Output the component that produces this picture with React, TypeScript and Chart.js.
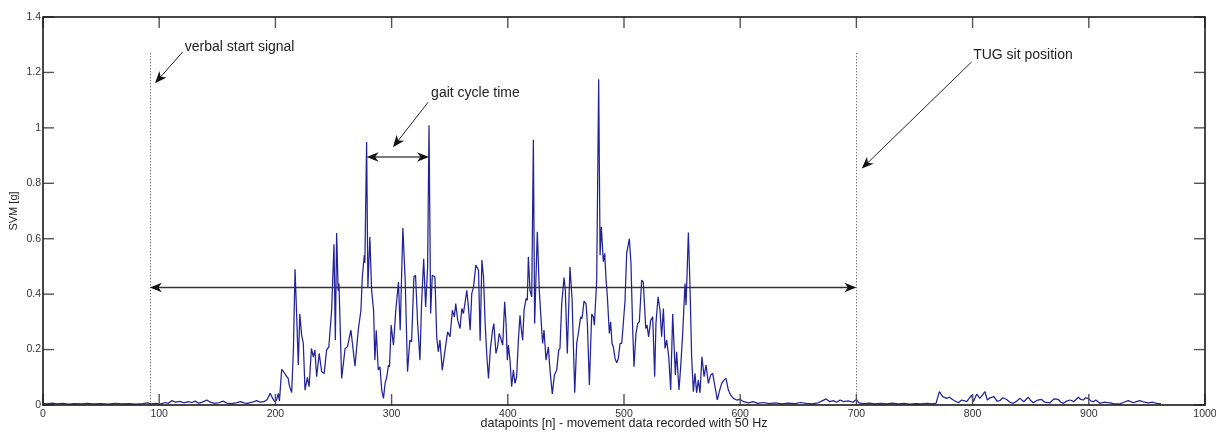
import React, { useEffect, useRef } from 'react';
import { Chart, registerables } from 'chart.js';

Chart.register(...registerables);

// ---- data ----
const xValues: number[] = [
  0, 3, 8, 12, 17, 22, 27, 33, 38, 44, 50, 56, 62, 68, 74, 80, 86, 90, 93, 97,
  101, 105, 108, 111, 114, 118, 121, 125, 128, 131, 134, 138, 141, 144, 148, 152, 155, 158, 162, 166,
  170, 173, 176, 180, 184, 187, 190, 193, 195.5, 197.5, 199.5, 201, 202.5, 203.5, 205.4, 207, 209, 211, 212, 214,
  215.5, 216.9, 218.5, 219.7, 221, 222.6, 224, 225.5, 227.5, 229, 231, 232.6, 234, 235.5, 237.7, 239.8, 242, 244, 246, 248.4,
  250.4, 251.6, 252.7, 254, 254.7, 257, 260, 262, 265, 268.5, 271.3, 273.6, 274.8, 276.5, 277, 278.5, 279.6, 281.3, 282.8, 284.5,
  285.6, 286.8, 288.5, 290, 291.5, 293, 294.4, 295.9, 297.3, 298.2, 299.6, 301.6, 303.6, 305.9, 307.4, 309.7, 311.7, 313.7, 315.7, 317.2,
  319.2, 320.6, 322.4, 324.4, 325.8, 327.6, 329.3, 331, 332.2, 333.6, 335, 337.3, 338.8, 340.2, 341.6, 343.6, 346, 348.2, 350.3, 352.3,
  354, 355.2, 356.9, 358.9, 360.4, 361.8, 363.3, 364.7, 366.1, 367.6, 369, 370.5, 372.5, 374.8, 376.2, 377.7, 379.1, 380.5, 382, 383.4,
  384.9, 386.9, 388, 389.8, 391.2, 392.6, 394, 395.6, 397.3, 398.5, 399.6, 400.5, 401.9, 403.3, 404.8, 406.2, 407.6, 409.1, 410.5, 411.7,
  412.8, 414, 415.7, 416.8, 417.7, 419.1, 420.6, 422, 423.1, 425.4, 427.1, 429.2, 430, 431.2, 432.9, 434.9, 436.3, 438.3, 440.1, 442.1,
  443.8, 444.9, 446.4, 448.4, 449.5, 451.2, 453.5, 455.3, 457.6, 459.3, 460.7, 462.7, 463.9, 465.6, 467.3, 468.5, 470.2, 472.2, 473.6, 474.5,
  476.5, 478.2, 479.4, 480.5, 482.2, 483.4, 484.5, 485.7, 487.4, 488.5, 489.7, 490.8, 492.3, 493.7, 495.1, 496.6, 498, 499.4, 500.9, 502.3,
  504.6, 506, 507.5, 508.6, 510.3, 511.8, 513.2, 515.2, 516.6, 518.7, 519.8, 521.2, 523, 524.7, 526.4, 527.5, 529.3, 531, 532.4, 533.9,
  535.3, 536.7, 538.5, 540.2, 541.9, 543, 544.2, 545.3, 547.3, 548.8, 550.5, 552.5, 553.4, 555.4, 556.8, 558.2, 559.7, 561.1, 562.5, 564,
  565.4, 567.1, 568.9, 570.6, 572.6, 574.6, 576.3, 578.3, 580.3, 582, 584.1, 586.1, 587.8, 589.8, 591.8, 594.1, 597, 600, 603, 607,
  611, 615, 620, 625, 630, 636, 641, 647, 652, 657, 662, 667, 671, 674, 677, 680, 683, 686, 689, 693,
  697, 700, 702, 706, 711, 716, 721, 726, 731, 736, 741, 746, 751, 756, 761, 765, 768.5, 771.4, 774.2, 777.7,
  780, 783.4, 787.7, 790.6, 794.9, 799.2, 800.6, 803.5, 806.3, 810.6, 812.7, 815, 818.4, 821, 823.6, 826, 829.3, 832, 835, 838,
  840.8, 844, 848, 850, 852.2, 856, 859.4, 862, 866.6, 870, 873.8, 876, 878.1, 881, 883.8, 887, 891, 893, 895.3, 897,
  899.6, 902, 903.9, 906, 909.6, 913, 918.2, 922, 926.8, 930, 934, 938.3, 941, 944, 948, 951.2, 955, 958.4, 962.1,
];

const svmValues: number[] = [
  0.006, 0.004, 0.007, 0.004, 0.006, 0.003, 0.005, 0.004, 0.006, 0.004, 0.005, 0.003, 0.006, 0.004, 0.005, 0.003, 0.005, 0.008, 0.004, 0.006,
  0.003, 0.009, 0.006, 0.016, 0.01, 0.013, 0.008, 0.012, 0.009, 0.014, 0.006, 0.012, 0.018, 0.01, 0.006, 0.009, 0.014, 0.007, 0.005, 0.008,
  0.012, 0.008, 0.006, 0.01, 0.016, 0.01, 0.012, 0.02, 0.042, 0.025, 0.012, 0.018, 0.042, 0.015, 0.129, 0.12, 0.108, 0.096, 0.07, 0.045,
  0.2, 0.49, 0.3, 0.144, 0.328, 0.252, 0.222, 0.054, 0.1, 0.066, 0.204, 0.174, 0.198, 0.102, 0.186, 0.12, 0.114, 0.198, 0.21, 0.342,
  0.58, 0.234, 0.621, 0.414, 0.438, 0.096, 0.204, 0.21, 0.27, 0.14, 0.27, 0.342, 0.462, 0.54, 0.513, 0.949, 0.426, 0.606, 0.414, 0.342,
  0.162, 0.27, 0.126, 0.138, 0.054, 0.024, 0.078, 0.102, 0.144, 0.138, 0.288, 0.216, 0.342, 0.444, 0.27, 0.639, 0.45, 0.12, 0.234, 0.228,
  0.462, 0.468, 0.294, 0.162, 0.366, 0.528, 0.354, 0.498, 1.009, 0.33, 0.468, 0.462, 0.246, 0.192, 0.234, 0.126, 0.198, 0.264, 0.246, 0.342,
  0.318, 0.366, 0.306, 0.276, 0.348, 0.33, 0.372, 0.414, 0.354, 0.27, 0.402, 0.426, 0.505, 0.486, 0.232, 0.523, 0.462, 0.294, 0.174, 0.096,
  0.198, 0.27, 0.294, 0.186, 0.21, 0.258, 0.24, 0.216, 0.372, 0.294, 0.162, 0.216, 0.162, 0.066, 0.126, 0.078, 0.102, 0.234, 0.324, 0.27,
  0.234, 0.342, 0.384, 0.378, 0.535, 0.414, 0.39, 0.957, 0.294, 0.625, 0.414, 0.27, 0.222, 0.27, 0.162, 0.21, 0.126, 0.04, 0.108, 0.126,
  0.198, 0.204, 0.366, 0.46, 0.414, 0.186, 0.498, 0.384, 0.044, 0.222, 0.258, 0.318, 0.312, 0.375, 0.366, 0.294, 0.072, 0.328, 0.318, 0.288,
  0.45, 1.175, 0.54, 0.643, 0.517, 0.547, 0.456, 0.39, 0.258, 0.3, 0.222, 0.21, 0.168, 0.152, 0.168, 0.222, 0.222, 0.294, 0.378, 0.547,
  0.6, 0.51, 0.27, 0.138, 0.258, 0.294, 0.3, 0.45, 0.444, 0.276, 0.288, 0.246, 0.306, 0.318, 0.102, 0.294, 0.39, 0.342, 0.246, 0.348,
  0.204, 0.234, 0.174, 0.054, 0.328, 0.222, 0.108, 0.192, 0.054, 0.138, 0.258, 0.438, 0.36, 0.622, 0.426, 0.174, 0.048, 0.114, 0.044, 0.09,
  0.044, 0.174, 0.102, 0.144, 0.078, 0.108, 0.114, 0.066, 0.018, 0.048, 0.078, 0.09, 0.096, 0.054, 0.036, 0.024, 0.018, 0.02, 0.012, 0.008,
  0.012, 0.006, 0.009, 0.005, 0.008, 0.004, 0.007, 0.005, 0.009, 0.006, 0.004, 0.008, 0.016, 0.022, 0.012, 0.016, 0.01, 0.018, 0.012, 0.015,
  0.01, 0.02, 0.008, 0.005, 0.007, 0.004, 0.006, 0.004, 0.007, 0.004, 0.006, 0.003, 0.005, 0.004, 0.006, 0.004, 0.006, 0.048, 0.03, 0.024,
  0.028, 0.018, 0.008, 0.018, 0.012, 0.036, 0.012, 0.039, 0.024, 0.048, 0.018, 0.026, 0.03, 0.014, 0.016, 0.026, 0.02, 0.01, 0.006, 0.014,
  0.024, 0.012, 0.028, 0.016, 0.008, 0.018, 0.02, 0.01, 0.008, 0.022, 0.02, 0.01, 0.006, 0.014, 0.018, 0.012, 0.028, 0.02, 0.018, 0.026,
  0.024, 0.014, 0.012, 0.018, 0.006, 0.01, 0.008, 0.004, 0.004, 0.01, 0.016, 0.008, 0.012, 0.016, 0.01, 0.008, 0.01, 0.006, 0.004,
];

const xTickLabels = ['0', '100', '200', '300', '400', '500', '600', '700', '800', '900', '1000'];
const yTickLabels = ['0', '0.2', '0.4', '0.6', '0.8', '1', '1.2', '1.4'];

const xAxisTitle = 'datapoints [n] - movement data recorded with 50 Hz';
const yAxisTitle = 'SVM [g]';

// annotations (data coordinates)
const markerXs = [92, 700];
const markerTop = 1.27;
const markerBottom = 0.012;
const spanArrowY = 0.424;
const gaitStart = 278.5;
const gaitEnd = 332.2;
const gaitY = 0.895;
const annotationTexts = ['verbal start signal', 'gait cycle time', 'TUG sit position'];
const textAnchors: [number, number][] = [[122, 1.293], [334, 1.126], [800.5, 1.263]];
const pointerTails: [number, number][] = [[120.2, 1.274], [331.3, 1.092], [799.2, 1.238]];
const pointerTips: [number, number][] = [[96.4, 1.161], [301.2, 0.93], [704.6, 0.853]];

const FONT = '"Liberation Sans", Arial, Helvetica, sans-serif';

function arrowHead(ctx: CanvasRenderingContext2D, tx: number, ty: number, fx: number, fy: number) {
  const len = 12;
  const half = 4.8;
  const notch = 3.5;
  const ang = Math.atan2(ty - fy, tx - fx);
  ctx.save();
  ctx.translate(tx, ty);
  ctx.rotate(ang);
  ctx.beginPath();
  ctx.moveTo(0, 0);
  ctx.lineTo(-len, -half);
  ctx.lineTo(-len + notch, 0);
  ctx.lineTo(-len, half);
  ctx.closePath();
  ctx.fill();
  ctx.restore();
}

function lineBetween(ctx: CanvasRenderingContext2D, x1: number, y1: number, x2: number, y2: number) {
  ctx.beginPath();
  ctx.moveTo(x1, y1);
  ctx.lineTo(x2, y2);
  ctx.stroke();
}

const overlayPlugin = {
  id: 'overlay',
  beforeDatasetsDraw(chart: any) {
    const { ctx, scales } = chart;
    const xs = scales.x;
    const ys = scales.y;
    ctx.save();
    ctx.strokeStyle = '#6f6f6f';
    ctx.lineWidth = 1;
    ctx.setLineDash([1.3, 1.7]);
    markerXs.forEach((mx) => {
      const px = Math.round(xs.getPixelForValue(mx)) + 0.5;
      lineBetween(ctx, px, ys.getPixelForValue(markerTop), px, ys.getPixelForValue(markerBottom));
    });
    ctx.restore();
  },
  afterDraw(chart: any) {
    const { ctx, scales, chartArea } = chart;
    const xs = scales.x;
    const ys = scales.y;
    const { left, right, top, bottom } = chartArea;
    ctx.save();

    // inward tick marks on all four sides
    ctx.strokeStyle = '#555';
    ctx.lineWidth = 1.4;
    const tl = 11;
    xs.ticks.forEach((t: any) => {
      const px = xs.getPixelForValue(t.value);
      lineBetween(ctx, px, bottom, px, bottom - tl);
      lineBetween(ctx, px, top, px, top + tl);
    });
    ys.ticks.forEach((t: any) => {
      const py = ys.getPixelForValue(t.value);
      lineBetween(ctx, left, py, left + tl, py);
      lineBetween(ctx, right, py, right - tl, py);
    });

    // box
    ctx.strokeStyle = '#1a1a1a';
    ctx.lineWidth = 1.6;
    ctx.strokeRect(left, top, right - left, bottom - top);

    // duration arrow
    const ax1 = xs.getPixelForValue(markerXs[0]);
    const ax2 = xs.getPixelForValue(markerXs[1]);
    const ay = ys.getPixelForValue(spanArrowY);
    ctx.strokeStyle = '#333';
    ctx.fillStyle = '#111';
    ctx.lineWidth = 1.3;
    lineBetween(ctx, ax1 + 6, ay, ax2 - 6, ay);
    arrowHead(ctx, ax1, ay, ax2, ay);
    arrowHead(ctx, ax2, ay, ax1, ay);

    // gait cycle arrow
    const gx1 = xs.getPixelForValue(gaitStart);
    const gx2 = xs.getPixelForValue(gaitEnd);
    const gy = ys.getPixelForValue(gaitY);
    ctx.strokeStyle = '#7a7a7a';
    ctx.lineWidth = 2;
    lineBetween(ctx, gx1 + 6, gy, gx2 - 6, gy);
    arrowHead(ctx, gx1, gy, gx2, gy);
    arrowHead(ctx, gx2, gy, gx1, gy);

    // pointer arrows and texts
    ctx.strokeStyle = '#222';
    ctx.lineWidth = 1;
    pointerTails.forEach((tail, i) => {
      const fx = xs.getPixelForValue(tail[0]);
      const fy = ys.getPixelForValue(tail[1]);
      const tx = xs.getPixelForValue(pointerTips[i][0]);
      const ty = ys.getPixelForValue(pointerTips[i][1]);
      const ang = Math.atan2(ty - fy, tx - fx);
      lineBetween(ctx, fx, fy, tx - Math.cos(ang) * 6, ty - Math.sin(ang) * 6);
      arrowHead(ctx, tx, ty, fx, fy);
    });

    ctx.fillStyle = '#222';
    ctx.font = `14px ${FONT}`;
    ctx.textAlign = 'left';
    ctx.textBaseline = 'middle';
    annotationTexts.forEach((txt, i) => {
      ctx.fillText(txt, xs.getPixelForValue(textAnchors[i][0]), ys.getPixelForValue(textAnchors[i][1]));
    });

    ctx.restore();
  },
};

export default function App() {
  const canvasRef = useRef<HTMLCanvasElement | null>(null);

  useEffect(() => {
    const canvas = canvasRef.current;
    if (!canvas) return;
    const points = xValues.map((x, i) => ({ x, y: svmValues[i] }));
    const chart = new Chart(canvas, {
      type: 'line',
      data: {
        datasets: [
          {
            data: points,
            borderColor: '#22229a',
            borderWidth: 1.25,
            borderJoinStyle: 'bevel',
            pointRadius: 0,
            tension: 0,
            fill: false,
          },
        ],
      },
      options: {
        animation: false,
        responsive: false,
        maintainAspectRatio: false,
        parsing: false,
        layout: { padding: { left: 0, right: 11, top: 17, bottom: 0 } },
        plugins: {
          legend: { display: false },
          tooltip: { enabled: false },
        },
        scales: {
          x: {
            type: 'linear',
            min: 0,
            max: 1000,
            grid: { display: false, drawTicks: false },
            border: { display: false },
            ticks: {
              stepSize: 100,
              autoSkip: false,
              maxRotation: 0,
              padding: 3,
              color: '#333',
              font: { family: FONT, size: 10.5 },
              callback: (_v: any, i: number) => xTickLabels[i],
            },
            title: {
              display: true,
              text: xAxisTitle,
              color: '#222',
              font: { family: FONT, size: 12.5 },
              padding: { top: 0, bottom: 2.5 },
            },
            afterFit: (s: any) => {
              s.height = 29;
              s.paddingLeft = 0;
              s.paddingRight = 0;
            },
          },
          y: {
            type: 'linear',
            min: 0,
            max: 1.4,
            grid: { display: false, drawTicks: false },
            border: { display: false },
            ticks: {
              stepSize: 0.2,
              autoSkip: false,
              padding: 2,
              color: '#333',
              font: { family: FONT, size: 10.5 },
              callback: (_v: any, i: number) => yTickLabels[i],
            },
            title: {
              display: true,
              text: yAxisTitle,
              color: '#222',
              font: { family: FONT, size: 11 },
              padding: { top: 7.5, bottom: 0 },
            },
            afterFit: (s: any) => {
              s.width = 43;
              s.paddingTop = 0;
              s.paddingBottom = 0;
            },
          },
        },
      },
      plugins: [overlayPlugin],
    } as any);
    return () => chart.destroy();
  }, []);

  return (
    <div style={{ position: 'fixed', left: 0, top: 0, width: 1216, height: 434, background: '#fff' }}>
      <canvas ref={canvasRef} width={1216} height={434} style={{ display: 'block', width: 1216, height: 434 }} />
    </div>
  );
}
